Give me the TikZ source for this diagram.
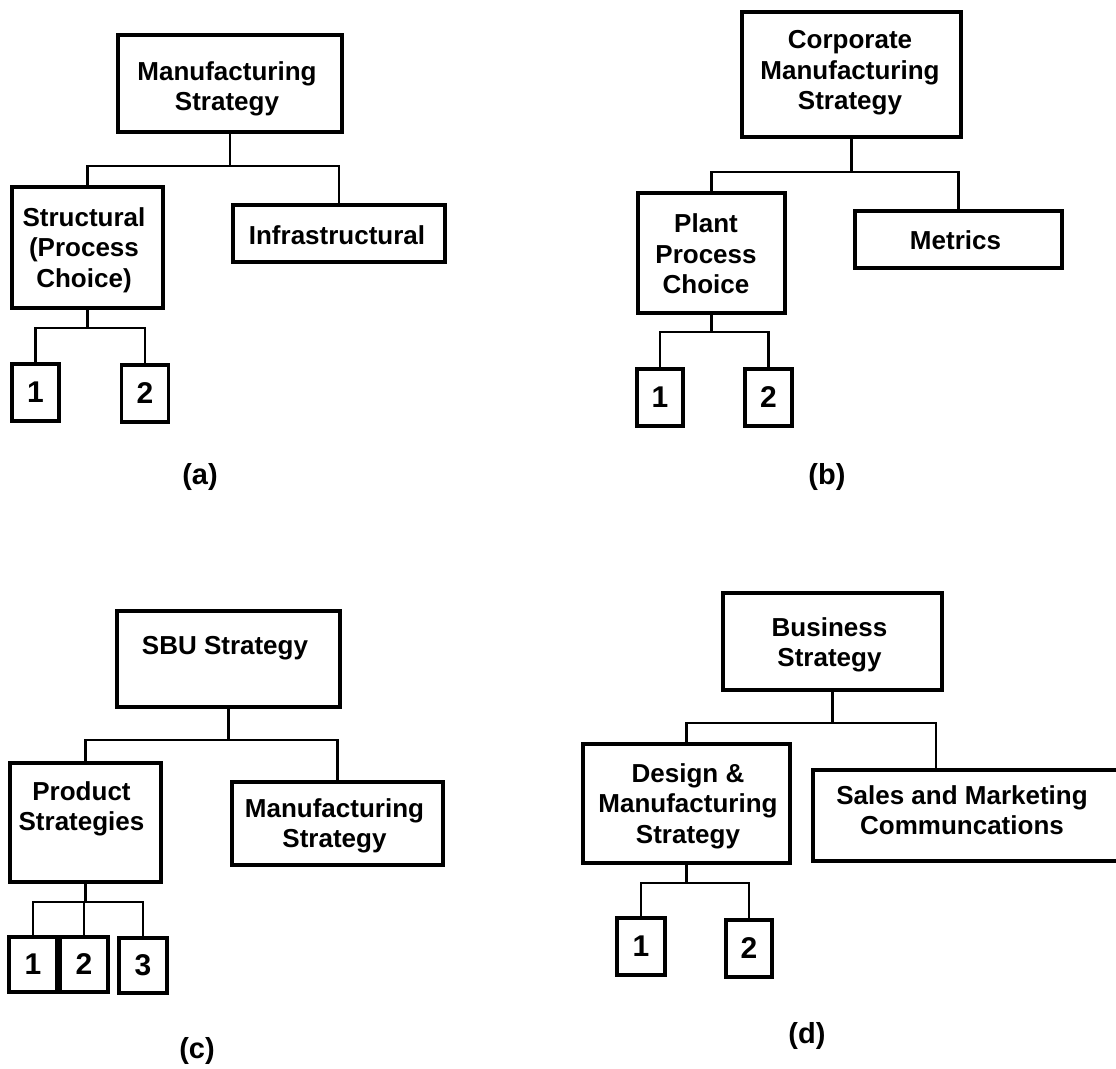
\documentclass[tikz,border=0pt]{standalone}
\usepackage{fontspec}
\setmainfont{Liberation Sans}
\usetikzlibrary{calc}
\begin{document}
\begin{tikzpicture}[x=1pt,y=-1pt]
\tikzset{
  box/.style={draw, line width=3.6pt, inner sep=0pt, outer sep=0pt,
    font=\fontsize{26pt}{30.5pt}\selectfont\bfseries},
  numbox/.style={box, minimum width=47pt, minimum height=57pt,
    font=\fontsize{30pt}{34pt}\selectfont\bfseries},
  txt/.style={align=center, inner sep=0pt, yshift=-2pt,
    font=\fontsize{26pt}{30.5pt}\selectfont\bfseries},
  link/.style={line width=2.2pt},
  plabel/.style={inner sep=0pt, font=\fontsize{29pt}{34pt}\selectfont\bfseries}
}
\useasboundingbox (0,0) rectangle (1116,1068);

% ---------------- (a) ----------------
\node[box, minimum width=224pt, minimum height=97pt] (aTop) at (230,83.5) {};
\node[txt] (aTopT) at (227,87) {Manufacturing\\Strategy};
\node[box, minimum width=151pt, minimum height=121pt] (aS) at (87.5,247.5) {};
\node[txt] (aST) at (84,248) {Structural\\(Process\\Choice)};
\node[box, minimum width=212pt, minimum height=57pt] (aI) at (339,233.5) {};
\node[txt, yshift=2pt] (aIT) at (337,235) {Infrastructural};
\node[numbox] (a1) at (35.5,392.5) {1};
\node[numbox] (a2) at (145,393.5) {2};
\coordinate (aBus1) at (0,166);
\coordinate (aBus2) at (0,328);
\draw[link] (aTop.south) -- (aTop.south |- aBus1);
\draw[link] (aS.north) -- (aS.north |- aBus1) -- (aI.north |- aBus1) -- (aI.north);
\draw[link] (aS.south) -- (aS.south |- aBus2);
\draw[link] (a1.north) -- (a1.north |- aBus2) -- (a2.north |- aBus2) -- (a2.north);
\node[plabel] (aLab) at (200,477) {(a)};

% ---------------- (b) ----------------
\node[box, minimum width=219pt, minimum height=125pt] (bTop) at (851.5,74.5) {};
\node[txt] (bTopT) at (850,71) {Corporate\\Manufacturing\\Strategy};
\node[box, minimum width=147pt, minimum height=120pt] (bP) at (711.5,253) {};
\node[txt] (bPT) at (706,252) {Plant\\Process\\Choice};
\node[box, minimum width=207pt, minimum height=57pt] (bM) at (958.5,239.5) {};
\node[txt, yshift=2pt] (bMT) at (955.5,240) {Metrics};
\node[numbox, minimum width=46pt] (b1) at (660,397.5) {1};
\node[numbox] (b2) at (768.5,397.5) {2};
\coordinate (bBus1) at (0,172);
\coordinate (bBus2) at (0,332);
\draw[link] (bTop.south) -- (bTop.south |- bBus1);
\draw[link] (bP.north) -- (bP.north |- bBus1) -- (bM.north |- bBus1) -- (bM.north);
\draw[link] (bP.south) -- (bP.south |- bBus2);
\draw[link] (b1.north) -- (b1.north |- bBus2) -- (b2.north |- bBus2) -- (b2.north);
\node[plabel] (bLab) at (827,477) {(b)};

% ---------------- (c) ----------------
\node[box, minimum width=223pt, minimum height=96pt] (cTop) at (228.5,659) {};
\node[txt] (cTopT) at (225,646) {SBU Strategy};
\node[box, minimum width=151pt, minimum height=119pt] (cP) at (85.5,822.5) {};
\node[txt] (cPT) at (81.5,807) {Product\\Strategies};
\node[box, minimum width=211pt, minimum height=83pt] (cM) at (337.5,823.5) {};
\node[txt] (cMT) at (334.5,824) {Manufacturing\\Strategy};
\node[numbox, minimum width=48pt, minimum height=55pt] (c1) at (33,964.5) {1};
\node[numbox, minimum width=48pt, minimum height=55pt] (c2) at (84,964.5) {2};
\node[numbox, minimum width=48pt, minimum height=55pt] (c3) at (143,965.5) {3};
\coordinate (cBus1) at (0,740);
\coordinate (cBus2) at (0,902);
\draw[link] (cTop.south) -- (cTop.south |- cBus1);
\draw[link] (cP.north) -- (cP.north |- cBus1) -- (cM.north |- cBus1) -- (cM.north);
\draw[link] (cP.south) -- (cP.south |- cBus2);
\draw[link] (c1.north) -- (c1.north |- cBus2) -- (c3.north |- cBus2) -- (c3.north);
\draw[link] (c2.north) -- (c2.north |- cBus2);
\node[plabel] (cLab) at (197,1051) {(c)};

% ---------------- (d) ----------------
\node[box, minimum width=219pt, minimum height=97pt] (dTop) at (832.5,641.5) {};
\node[txt] (dTopT) at (829.5,643) {Business\\Strategy};
\node[box, minimum width=207pt, minimum height=119pt] (dD) at (686.5,803.5) {};
\node[txt] (dDT) at (688,804) {Design \&\\Manufacturing\\Strategy};
\node[box, minimum width=307pt, minimum height=91pt] (dS) at (966.5,815.5) {};
\node[txt] (dST) at (962,808) {Sales and Marketing\\Communcations};
\node[numbox, minimum width=48pt] (d1) at (641,946.5) {1};
\node[numbox, minimum width=46pt] (d2) at (749,948.5) {2};
\coordinate (dBus1) at (0,723);
\coordinate (dBus2) at (0,883);
\coordinate (dSin) at ($(dS.north west)!0.4!(dS.north east)$);
\draw[link] (dTop.south) -- (dTop.south |- dBus1);
\draw[link] (dD.north) -- (dD.north |- dBus1) -- (dSin |- dBus1) -- (dSin);
\draw[link] (dD.south) -- (dD.south |- dBus2);
\draw[link] (d1.north) -- (d1.north |- dBus2) -- (d2.north |- dBus2) -- (d2.north);
\node[plabel] (dLab) at (807,1036) {(d)};
\end{tikzpicture}
\end{document}
